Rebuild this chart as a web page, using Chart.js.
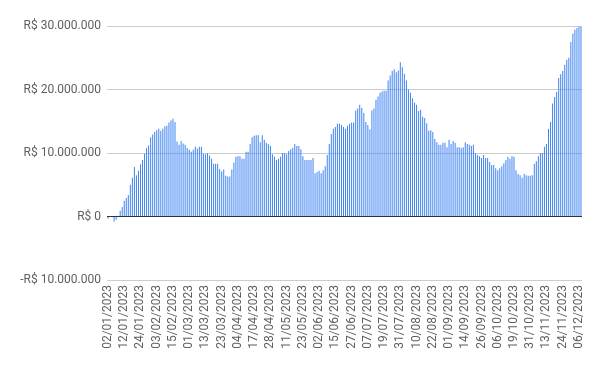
<!DOCTYPE html>
<html>
<head>
<meta charset="utf-8">
<script src="https://cdn.jsdelivr.net/npm/chart.js@4/dist/chart.umd.min.js"></script>
<style>
  html, body { margin: 0; padding: 0; background: #ffffff; }
  #wrap { width: 600px; height: 371px; }
</style>
</head>
<body>
<div id="wrap"><canvas id="c" width="600" height="371"></canvas></div>
<script>
// Trading days (categories)
const categories = [
  "02/01/2023","03/01/2023","04/01/2023","05/01/2023","06/01/2023","09/01/2023","10/01/2023","11/01/2023","12/01/2023","13/01/2023","16/01/2023","17/01/2023","18/01/2023","19/01/2023","20/01/2023","23/01/2023","24/01/2023","25/01/2023","26/01/2023","27/01/2023","30/01/2023","31/01/2023",
  "01/02/2023","02/02/2023","03/02/2023","06/02/2023","07/02/2023","08/02/2023","09/02/2023","10/02/2023","13/02/2023","14/02/2023","15/02/2023","16/02/2023","17/02/2023","22/02/2023","23/02/2023","24/02/2023","27/02/2023","28/02/2023",
  "01/03/2023","02/03/2023","03/03/2023","06/03/2023","07/03/2023","08/03/2023","09/03/2023","10/03/2023","13/03/2023","14/03/2023","15/03/2023","16/03/2023","17/03/2023","20/03/2023","21/03/2023","22/03/2023","23/03/2023","24/03/2023","27/03/2023","28/03/2023","29/03/2023","30/03/2023","31/03/2023",
  "03/04/2023","04/04/2023","05/04/2023","06/04/2023","10/04/2023","11/04/2023","12/04/2023","13/04/2023","14/04/2023","17/04/2023","18/04/2023","19/04/2023","20/04/2023","24/04/2023","25/04/2023","26/04/2023","27/04/2023","28/04/2023",
  "02/05/2023","03/05/2023","04/05/2023","05/05/2023","08/05/2023","09/05/2023","10/05/2023","11/05/2023","12/05/2023","15/05/2023","16/05/2023","17/05/2023","18/05/2023","19/05/2023","22/05/2023","23/05/2023","24/05/2023","25/05/2023","26/05/2023","29/05/2023","30/05/2023","31/05/2023",
  "01/06/2023","02/06/2023","05/06/2023","06/06/2023","07/06/2023","09/06/2023","12/06/2023","13/06/2023","14/06/2023","15/06/2023","16/06/2023","19/06/2023","20/06/2023","21/06/2023","22/06/2023","23/06/2023","26/06/2023","27/06/2023","28/06/2023","29/06/2023","30/06/2023",
  "03/07/2023","04/07/2023","05/07/2023","06/07/2023","07/07/2023","10/07/2023","11/07/2023","12/07/2023","13/07/2023","14/07/2023","17/07/2023","18/07/2023","19/07/2023","20/07/2023","21/07/2023","24/07/2023","25/07/2023","26/07/2023","27/07/2023","28/07/2023","31/07/2023",
  "01/08/2023","02/08/2023","03/08/2023","04/08/2023","07/08/2023","08/08/2023","09/08/2023","10/08/2023","11/08/2023","14/08/2023","15/08/2023","16/08/2023","17/08/2023","18/08/2023","21/08/2023","22/08/2023","23/08/2023","24/08/2023","25/08/2023","28/08/2023","29/08/2023","30/08/2023","31/08/2023",
  "01/09/2023","04/09/2023","05/09/2023","06/09/2023","08/09/2023","11/09/2023","12/09/2023","13/09/2023","14/09/2023","15/09/2023","18/09/2023","19/09/2023","20/09/2023","21/09/2023","22/09/2023","25/09/2023","26/09/2023","27/09/2023","28/09/2023","29/09/2023",
  "02/10/2023","03/10/2023","04/10/2023","05/10/2023","06/10/2023","09/10/2023","10/10/2023","11/10/2023","13/10/2023","16/10/2023","17/10/2023","18/10/2023","19/10/2023","20/10/2023","23/10/2023","24/10/2023","25/10/2023","26/10/2023","27/10/2023","30/10/2023","31/10/2023",
  "01/11/2023","03/11/2023","06/11/2023","07/11/2023","08/11/2023","09/11/2023","10/11/2023","13/11/2023","14/11/2023","16/11/2023","17/11/2023","20/11/2023","21/11/2023","22/11/2023","23/11/2023","24/11/2023","27/11/2023","28/11/2023","29/11/2023","30/11/2023",
  "01/12/2023","04/12/2023","05/12/2023","06/12/2023","07/12/2023"
];

// Values in millions of R$, in chronological order (split in consecutive chunks)
const values1 = [
  -0.3, 0.05, -0.1, -0.8, -0.5, 0.1, 0.9, 1.5, 2.5, 2.9, 3.4, 5.0, 6.1, 7.8, 6.5, 7.2, 8.2, 8.9, 9.9, 10.8, 11.2, 12.5,
  12.9, 13.3, 13.6, 13.8, 13.5, 13.8, 14.2, 14.3, 14.8, 15.1, 15.4, 14.9, 11.8, 11.3, 11.9, 11.5, 11.3, 10.8
];
const values2 = [
  10.5, 10.2, 10.5, 11.0, 10.7, 11.0, 11.0, 9.9, 9.8, 10.0, 9.6, 9.1, 8.3, 8.3, 8.3, 7.5, 7.1, 7.4, 6.4, 6.3, 6.3, 7.4, 8.5,
  9.4, 9.5, 9.5, 9.1, 9.1, 10.2, 10.2, 11.4, 12.5, 12.7, 12.8, 12.8, 11.7, 12.8, 12.1, 11.6, 11.4, 11.1
];
const values3 = [
  9.8, 9.4, 8.9, 9.1, 9.4, 10.0, 10.0, 9.8, 10.3, 10.6, 10.8, 11.4, 11.1, 11.1, 10.6, 9.5, 8.9, 8.9, 8.9, 8.9, 9.2, 6.8,
  7.0, 7.2, 6.8, 7.3, 7.9, 9.7, 11.4, 13.0, 13.8, 14.1, 14.6, 14.6, 14.4, 14.1, 13.8, 14.3, 14.6, 14.8, 14.8
];
const values4 = [
  16.7, 17.0, 17.6, 17.1, 16.3, 14.9, 14.4, 13.7, 16.7, 17.0, 18.4, 18.9, 19.5, 19.7, 19.8, 19.8, 21.4, 22.2, 22.9, 23.2, 22.7,
  23.0, 24.3, 23.5, 22.5, 21.4, 20.0, 19.5, 18.6, 17.9, 17.6, 16.6, 16.8, 15.7, 15.5, 14.7, 13.5, 13.6, 13.3, 12.2, 11.7, 11.3, 11.3, 11.6
];
const values5 = [
  11.6, 10.9, 12.1, 11.4, 11.9, 11.6, 10.9, 10.9, 10.8, 10.9, 11.7, 11.4, 11.3, 11.1, 11.3, 10.0, 9.7, 9.5, 9.2, 9.7,
  9.2, 9.2, 8.6, 8.1, 8.1, 7.6, 7.3, 7.6, 7.9, 8.4, 8.9, 9.4, 9.1, 9.5, 9.4, 7.3, 6.7, 6.5, 6.1, 6.7, 6.5
];
const values6 = [
  6.4, 6.4, 6.5, 8.3, 8.7, 9.5, 10.0, 10.0, 11.0, 11.4, 13.8, 14.9, 17.8, 18.8, 19.6, 21.8, 22.4, 22.9, 23.9, 24.7,
  25.0, 27.5, 28.8, 29.4, 29.7, 29.9, 29.9
];

const yTickLabels = ["-R$ 10.000.000", "R$ 0", "R$ 10.000.000", "R$ 20.000.000", "R$ 30.000.000"];
const yTickValues = [-10, 0, 10, 20, 30];
const xLabelEvery = 8;

const values = [].concat(values1, values2, values3, values4, values5, values6);

const textColor = '#5f5f5f';
const fontSpec = { family: 'Roboto, "Noto Sans", Arial, sans-serif', size: 12 };

new Chart(document.getElementById('c'), {
  type: 'bar',
  data: {
    labels: categories.slice(0, values.length),
    datasets: [{
      data: values,
      backgroundColor: '#4285F4',
      borderWidth: 0,
      barPercentage: 0.5,
      categoryPercentage: 1.0
    }]
  },
  options: {
    responsive: false,
    animation: false,
    events: [],
    layout: { padding: { top: 26, right: 18, left: 0, bottom: 0 } },
    plugins: { legend: { display: false }, tooltip: { enabled: false } },
    scales: {
      x: {
        grid: { display: false, drawTicks: false },
        border: { display: false },
        ticks: {
          autoSkip: false,
          maxRotation: 90,
          minRotation: 90,
          padding: 5,
          color: textColor,
          font: fontSpec,
          callback: function(v, i) { return i % xLabelEvery === 0 ? this.getLabelForValue(v) : null; }
        },
        afterFit: function(s) { s.height = 91; }
      },
      y: {
        min: -10, max: 30,
        afterBuildTicks: function(s) { s.ticks = yTickValues.map(v => ({ value: v })); },
        grid: {
          color: ctx => (ctx.tick && ctx.tick.value === 0) ? '#333333' : '#cccccc',
          lineWidth: 1,
          drawTicks: false
        },
        border: { display: false },
        ticks: {
          padding: 6,
          color: textColor,
          font: fontSpec,
          callback: function(v) { const k = yTickValues.indexOf(v); return k >= 0 ? yTickLabels[k] : ''; }
        },
        afterFit: function(s) { s.width = 107; }
      }
    }
  }
});
</script>
</body>
</html>
